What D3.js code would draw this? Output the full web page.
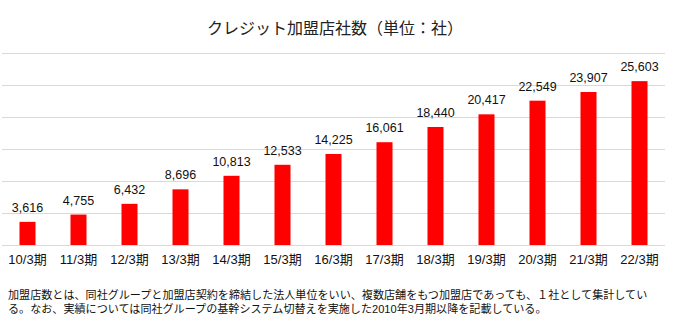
<!DOCTYPE html>
<html><head><meta charset="utf-8">
<script src="https://cdn.jsdelivr.net/npm/d3@7/dist/d3.min.js"></script>
<style>body{margin:0;background:#fff}svg{display:block}text{font-family:"Liberation Sans",Arial,"Noto Sans CJK JP",sans-serif}</style>
</head><body><svg id="c" width="685" height="325"></svg>
<script>
const categories = ["10/3期","11/3期","12/3期","13/3期","14/3期","15/3期","16/3期","17/3期","18/3期","19/3期","20/3期","21/3期","22/3期"];
const values = [3616,4755,6432,8696,10813,12533,14225,16061,18440,20417,22549,23907,25603];
const gridTicks = [0,5000,10000,15000,20000,25000,30000];
const title = "クレジット加盟店社数（単位：社）";
const notes = ["加盟店数とは、同社グループと加盟店契約を締結した法人単位をいい、複数店舗をもつ加盟店であっても、１社として集計してい",
               "る。なお、実績については同社グループの基幹システム切替えを実施した2010年3月期以降を記載している。"];

const svg = d3.select("#c");
const x = d3.scaleBand().domain(categories).range([2,665]).paddingInner(0.686).paddingOuter(0.343);
const y = d3.scaleLinear().domain([0,30000]).range([245,53]);

svg.append("text").attr("x",335).attr("y",34).attr("text-anchor","middle")
  .attr("font-size",16).attr("fill","#222").text(title);

svg.append("g").selectAll("line").data(gridTicks).join("line")
  .attr("x1",2).attr("x2",665).attr("y1",d=>y(d)+0.5).attr("y2",d=>y(d)+0.5)
  .attr("stroke","#d9d9d9").attr("stroke-width",1);

svg.append("g").selectAll("rect").data(values).join("rect")
  .attr("x",(d,i)=>x(categories[i])).attr("width",x.bandwidth())
  .attr("y",d=>y(d)).attr("height",d=>y(0)-y(d)).attr("fill","#ff0000");

svg.append("g").selectAll("text").data(values).join("text")
  .attr("x",(d,i)=>x(categories[i])+x.bandwidth()/2).attr("y",d=>y(d)-10)
  .attr("text-anchor","middle").attr("font-size",12.5).attr("fill","#111")
  .text(d=>d3.format(",")(d));

const ax = svg.append("g").attr("transform","translate(0,245)")
  .call(d3.axisBottom(x).tickSize(0).tickPadding(10));
ax.select(".domain").remove();
ax.selectAll("text").attr("font-size",13).attr("fill","#111");

const nt = svg.append("g").selectAll("text").data(notes).join("text")
  .attr("x",8).attr("y",(d,i)=>299+i*14).attr("font-size",12).attr("fill","#111")
  .text(d=>d);
// shrink font so the first line fits the same width as in the reference
const w0 = nt.nodes()[0].getComputedTextLength();
if (w0 > 640) { const fs = 12*640/w0; nt.attr("font-size",fs); }
</script></body></html>
